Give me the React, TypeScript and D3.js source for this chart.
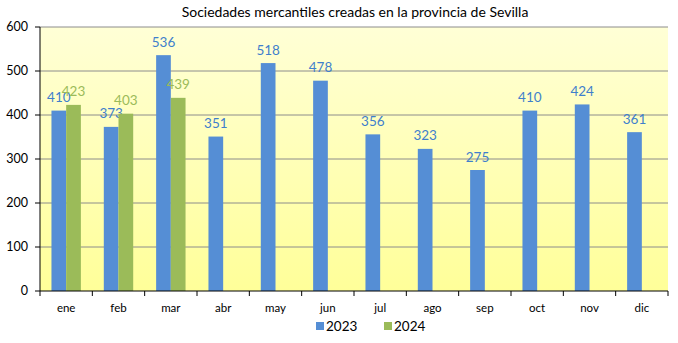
import React from "react";
import * as d3 from "d3";

const months = ["ene", "feb", "mar", "abr", "may", "jun", "jul", "ago", "sep", "oct", "nov", "dic"];
const values2023 = [410, 373, 536, 351, 518, 478, 356, 323, 275, 410, 424, 361];
const values2024 = [423, 403, 439];
const yTicks = [0, 100, 200, 300, 400, 500, 600];
const seriesNames = ["2023", "2024"];
const seriesColors = ["#558ED5", "#9BBB59"];
const labelColors = ["#3F7FCC", "#9BBB59"];

const W = 678, H = 343;
const left = 40, right = 668, top = 27, bottom = 291;
const font = "'Lato', 'Open Sans', sans-serif";

export default function App() {
  const x = d3.scaleBand<string>().domain(months).range([left, right]).padding(0);
  const y = d3.scaleLinear().domain([0, 600]).range([bottom, top]);
  const inner = d3.scaleBand<string>().domain(seriesNames).range([0, x.bandwidth()]).paddingInner(0).paddingOuter(0.78);
  const series = [values2023, values2024];

  return (
    <svg width={W} height={H} style={{ position: "absolute", left: 0, top: 0, fontFamily: font }}>
      <defs>
        <linearGradient id="bg" x1="0" y1="0" x2="0" y2="1">
          <stop offset="0%" stopColor="#FFFFD6" />
          <stop offset="100%" stopColor="#FFFF99" />
        </linearGradient>
      </defs>
      <rect x={0} y={0} width={W} height={H} fill="#fff" />
      <rect x={left} y={top} width={right - left} height={bottom - top} fill="url(#bg)" />
      {yTicks.filter(t => t > 0).map(t => (
        <line key={t} x1={left} x2={right} y1={y(t)} y2={y(t)} stroke="#8C8C8C" strokeWidth={1} />
      ))}
      <text x={355} y={17} textAnchor="middle" fontSize={14} fill="#000">
        Sociedades mercantiles creadas en la provincia de Sevilla
      </text>
      {series.map((vals, si) =>
        vals.map((v, i) => {
          const bx = (x(months[i]) as number) + (inner(seriesNames[si]) as number);
          return (
            <g key={si + "-" + i}>
              <rect x={bx} y={y(v)} width={inner.bandwidth()} height={bottom - y(v)} fill={seriesColors[si]} />
              <text x={bx + inner.bandwidth() / 2} y={y(v) - 8.5} textAnchor="middle" fontSize={13.5} fill={labelColors[si]}>
                {v}
              </text>
            </g>
          );
        })
      )}
      <line x1={left} x2={left} y1={top} y2={bottom} stroke="#000" />
      <line x1={left} x2={right} y1={bottom} y2={bottom} stroke="#000" />
      {yTicks.map(t => (
        <g key={t}>
          <line x1={left - 5} x2={left} y1={y(t)} y2={y(t)} stroke="#000" />
          <text x={28} y={y(t) + 4} textAnchor="end" fontSize={12.5} fill="#000">{t}</text>
        </g>
      ))}
      {months.map((m, i) => (
        <g key={m}>
          <line x1={x(m) as number} x2={x(m) as number} y1={bottom} y2={bottom + 5} stroke="#000" />
          <text x={(x(m) as number) + x.bandwidth() / 2} y={312} textAnchor="middle" fontSize={11.5} fill="#000">{m}</text>
        </g>
      ))}
      <line x1={right} x2={right} y1={bottom} y2={bottom + 5} stroke="#000" />
      {seriesNames.map((s, i) => (
        <g key={s} transform={`translate(${316 + i * 68},0)`}>
          <rect x={0} y={322} width={8} height={8} fill={seriesColors[i]} />
          <text x={10} y={331} fontSize={13.5} fill="#000">{s}</text>
        </g>
      ))}
    </svg>
  );
}
